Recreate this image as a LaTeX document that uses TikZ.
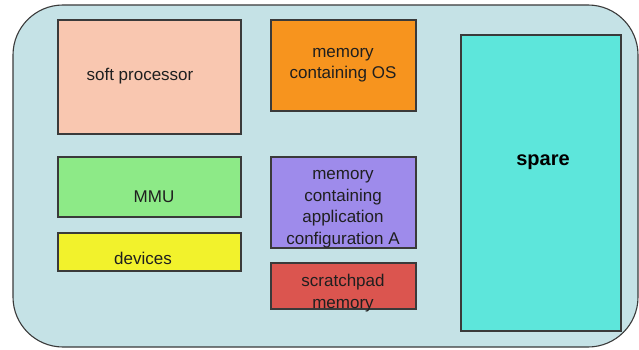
\documentclass[tikz,border=0pt]{standalone}
\usepackage{fontspec}
\setmainfont{Liberation Sans}
\definecolor{outerfill}{HTML}{C5E2E6}
\definecolor{peach}{HTML}{F9C7B0}
\definecolor{orangebox}{HTML}{F7941E}
\definecolor{greenbox}{HTML}{8DEA87}
\definecolor{yellowbox}{HTML}{F2F22C}
\definecolor{purplebox}{HTML}{9E8BEB}
\definecolor{redbox}{HTML}{DB554F}
\definecolor{cyanbox}{HTML}{5DE6DB}
\definecolor{edge}{HTML}{3A3A3A}
\begin{document}
\begin{tikzpicture}[x=1pt,y=-1pt,
  blk/.style={draw=edge,line width=1.1pt},
  lbl/.style={font=\fontsize{17}{21.5}\selectfont,text=black!88,align=center,inner sep=0pt}]
\useasboundingbox (0,0) rectangle (639,350);
\draw[blk,fill=outerfill,rounded corners=50pt] (13,5) rectangle (638,347);
\path[blk,fill=peach] (58,20) rectangle (241,134);
\path[blk,fill=orangebox] (271,20) rectangle (416,111);
\path[blk,fill=greenbox] (58,157) rectangle (241,217);
\path[blk,fill=yellowbox] (58,233) rectangle (241,271);
\path[blk,fill=purplebox] (271,157) rectangle (416,248);
\path[blk,fill=redbox] (271,263) rectangle (416,309);
\path[blk,fill=cyanbox] (461,35) rectangle (621,331);
\node[lbl] (tsp) at (140,76) {soft processor};
\node[lbl] (tos) at (343,65) {memory\\containing OS};
\node[lbl] (tmmu) at (154,197) {MMU};
\node[lbl] (tdev) at (143,258) {devices};
\node[lbl] (tapp) at (343,209) {memory\\containing\\application\\configuration A};
\node[lbl] (tscr) at (343,293) {scratchpad\\memory};
\node[lbl,font=\fontsize{20}{24}\selectfont\bfseries,text=black] (tsp2) at (543,162) {spare};
\end{tikzpicture}
\end{document}
